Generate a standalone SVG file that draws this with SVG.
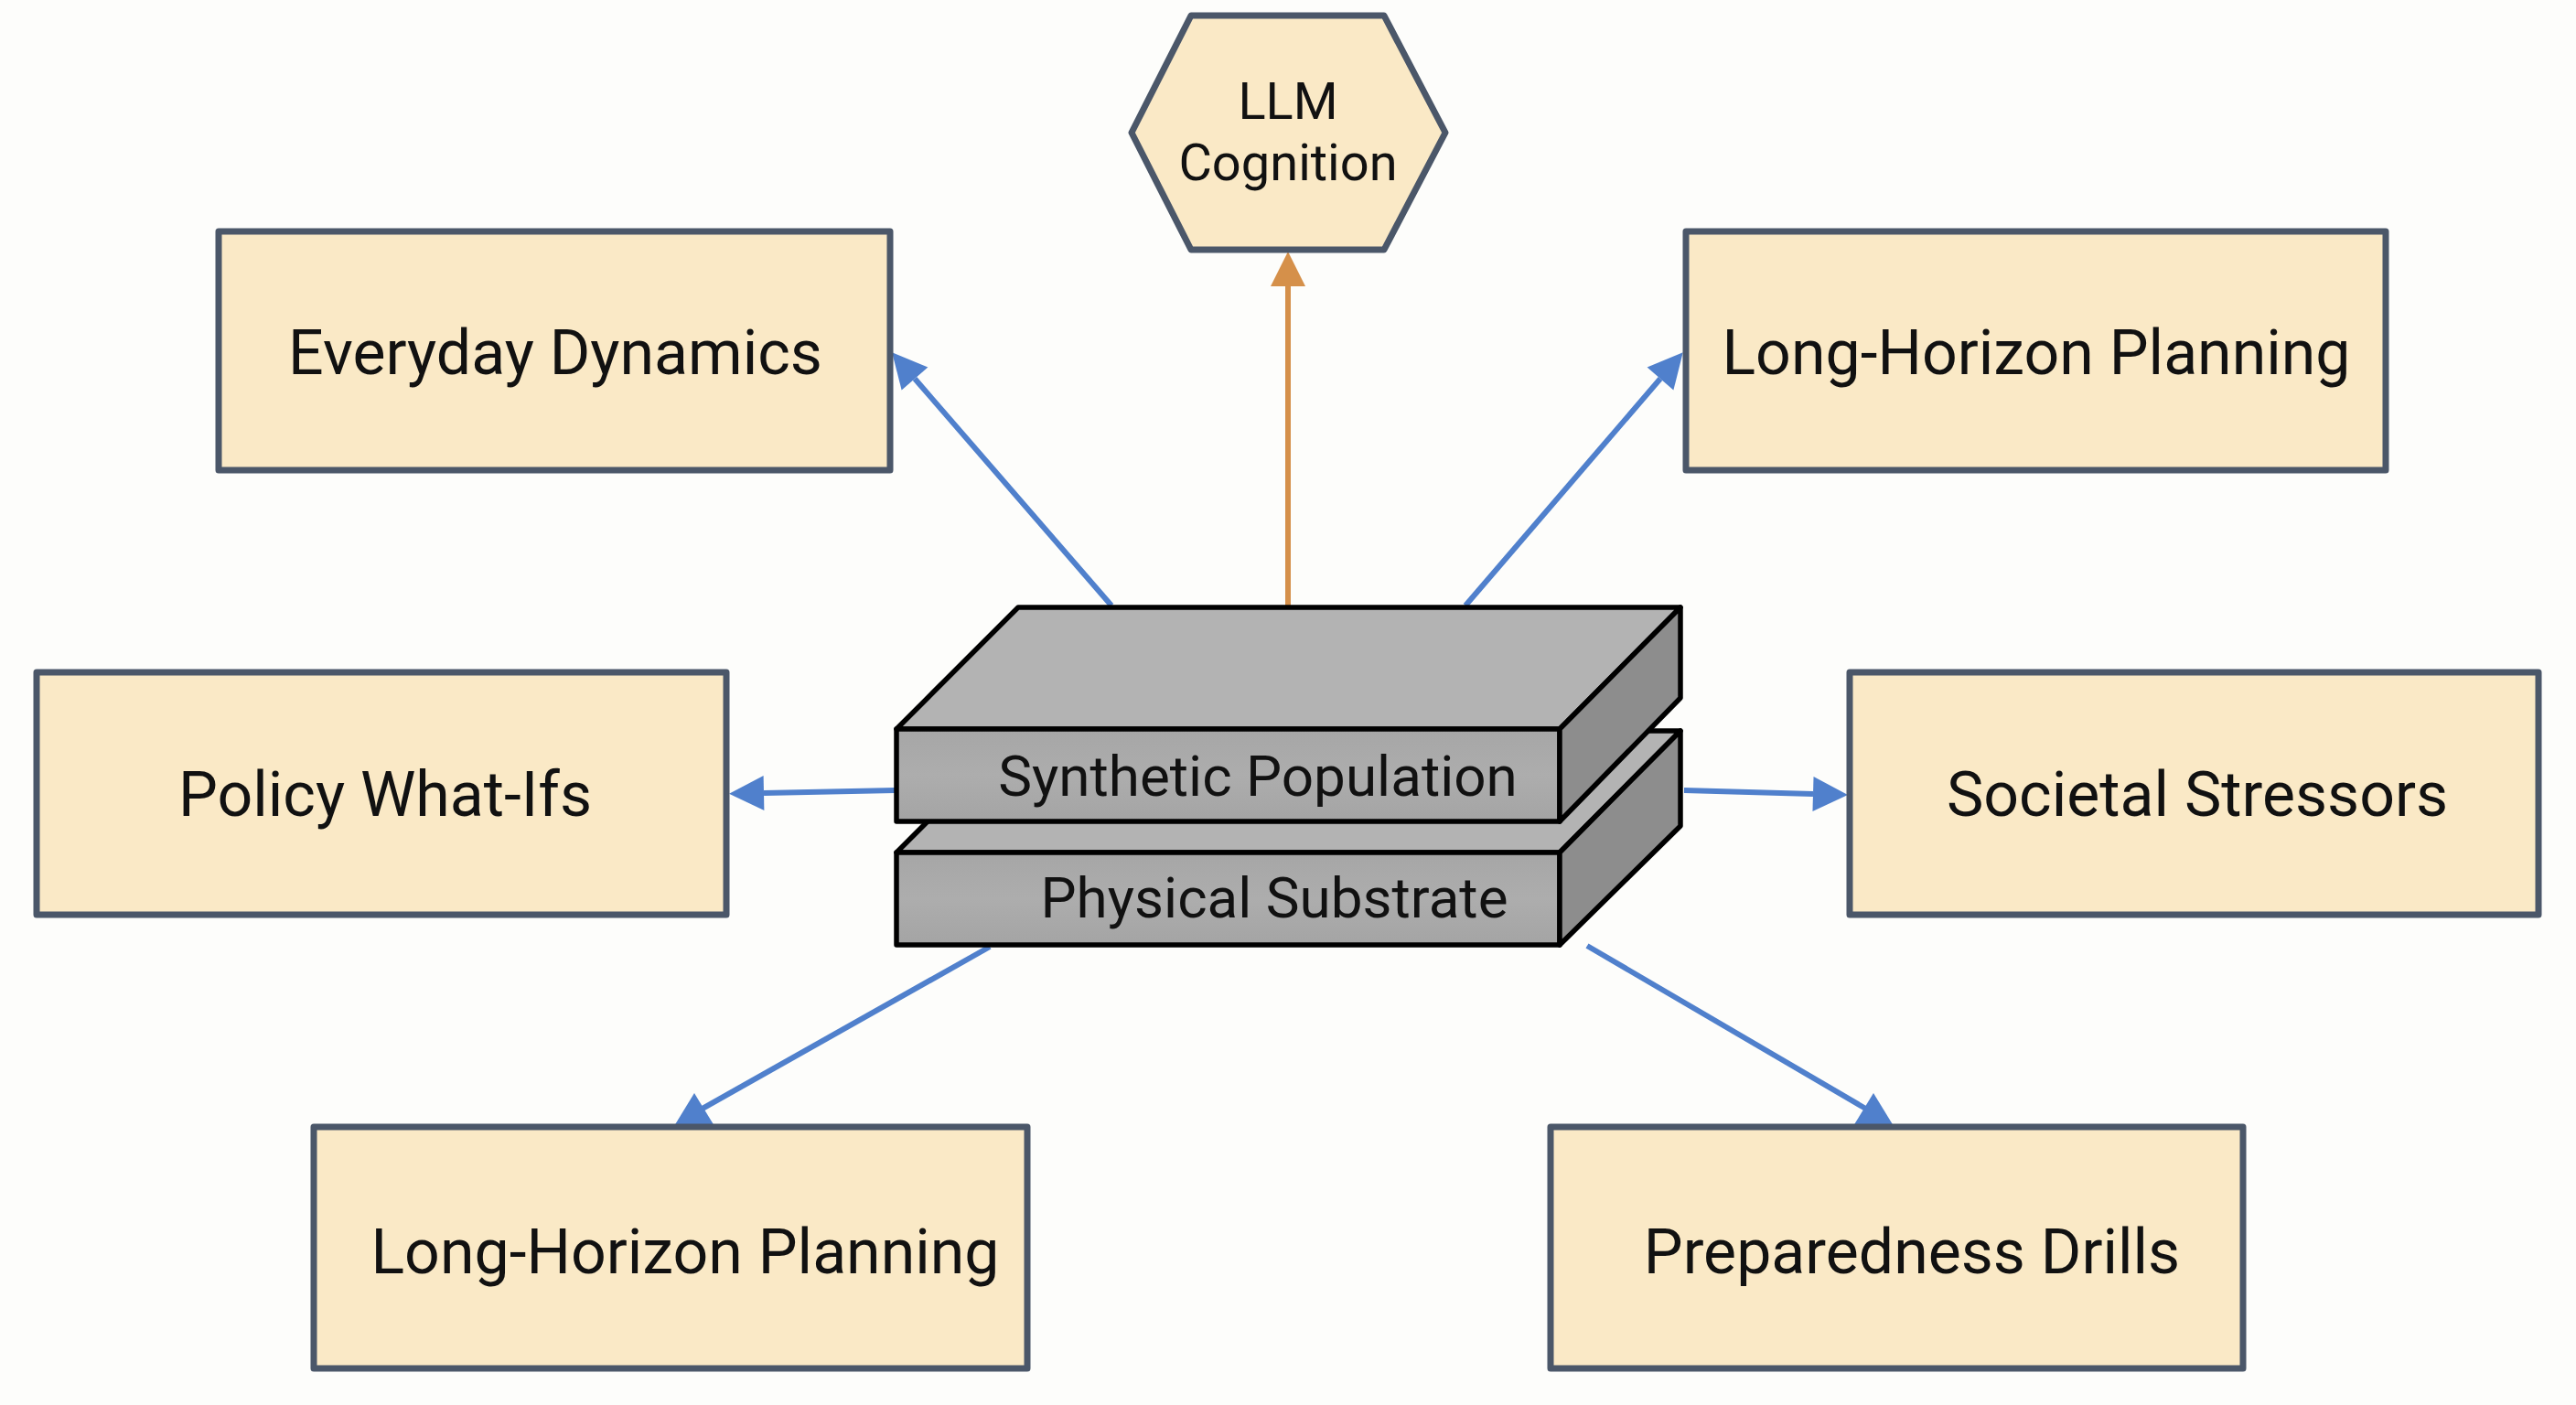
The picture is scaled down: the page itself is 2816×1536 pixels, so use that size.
<svg xmlns="http://www.w3.org/2000/svg" width="2816" height="1536" viewBox="0 0 2816 1536">
<defs>
<style>
.box{fill:#fae9c6;stroke:#4b5769;stroke-width:7;stroke-linejoin:round}
.lbl{font-family:Roboto,"Liberation Sans",sans-serif;font-size:68px;fill:#111;text-anchor:middle}
.hexlbl{font-family:Roboto,"Liberation Sans",sans-serif;font-size:56px;fill:#111;text-anchor:middle}
.slablbl{font-family:Roboto,"Liberation Sans",sans-serif;font-size:62px;fill:#111;text-anchor:middle}
.edge{stroke:#5080cc;stroke-width:6;fill:none}
.edgeO{stroke:#d5904a;stroke-width:6;fill:none}
.sl{stroke:#000;stroke-width:5.5;stroke-linejoin:round}
.top{fill:#b3b3b3}
.front{fill:url(#gf)}
.side{fill:#8d8d8d}
</style>
<linearGradient id="gf" x1="0" y1="0" x2="0" y2="1">
<stop offset="0" stop-color="#a6a6a6"/>
<stop offset="0.5" stop-color="#adadad"/>
<stop offset="1" stop-color="#a4a4a4"/>
</linearGradient>
<marker id="ab" markerUnits="userSpaceOnUse" markerWidth="40" markerHeight="40" refX="0" refY="19" orient="auto" overflow="visible">
<path d="M0 0 L38 19 L0 38 Z" fill="#5080cc"/>
</marker>
<marker id="ao" markerUnits="userSpaceOnUse" markerWidth="40" markerHeight="40" refX="0" refY="19" orient="auto" overflow="visible">
<path d="M0 0 L38 19 L0 38 Z" fill="#d5904a"/>
</marker>
<marker id="au" markerUnits="userSpaceOnUse" markerWidth="46" markerHeight="40" refX="22" refY="22" orient="0" overflow="visible">
<path d="M22 0 L0 36 L44 36 Z" fill="#5080cc"/>
</marker>
</defs>
<rect x="0" y="0" width="2816" height="1536" fill="#fdfdfb"/>

<g id="connectors">
<line class="edge" x1="1215" y1="662" x2="1000" y2="414" marker-end="url(#ab)"/>
<line class="edge" x1="1602" y1="662" x2="1815" y2="414" marker-end="url(#ab)"/>
<line class="edgeO" x1="1408" y1="663" x2="1408" y2="313" marker-end="url(#ao)"/>
<line class="edge" x1="979" y1="864" x2="835" y2="867" marker-end="url(#ab)"/>
<line class="edge" x1="1841" y1="864" x2="1982" y2="868" marker-end="url(#ab)"/>
<line class="edge" x1="1082" y1="1035" x2="759" y2="1217" marker-end="url(#au)"/>
<line class="edge" x1="1735" y1="1034" x2="2048" y2="1217" marker-end="url(#au)"/>
</g>

<g id="llm-cognition">
<polygon class="box" points="1302,17 1513,17 1580,145 1513,273 1302,273 1237,145"/>
<text class="hexlbl" x="1408" y="130">LLM</text>
<text class="hexlbl" x="1408" y="197">Cognition</text>
</g>

<g id="everyday-dynamics">
<rect class="box" x="239" y="253" width="734" height="261"/>
<text class="lbl" x="607" y="409">Everyday Dynamics</text>
</g>

<g id="long-horizon-planning-top">
<rect class="box" x="1843" y="253" width="765" height="261"/>
<text class="lbl" x="2226" y="409">Long-Horizon Planning</text>
</g>

<g id="policy-what-ifs">
<rect class="box" x="40" y="735" width="754" height="265"/>
<text class="lbl" x="421" y="892">Policy What-Ifs</text>
</g>

<g id="societal-stressors">
<rect class="box" x="2022" y="735" width="753" height="265"/>
<text class="lbl" x="2402" y="892">Societal Stressors</text>
</g>

<g id="long-horizon-planning-bottom">
<rect class="box" x="343" y="1232" width="780" height="264"/>
<text class="lbl" x="749" y="1392">Long-Horizon Planning</text>
</g>

<g id="preparedness-drills">
<rect class="box" x="1695" y="1232" width="757" height="264"/>
<text class="lbl" x="2090" y="1392">Preparedness Drills</text>
</g>

<g id="physical-substrate">
<polygon class="sl top" points="980,932 1705,932 1837,799 1113,799"/>
<rect class="sl front" x="980" y="932" width="725" height="101"/>
<polygon class="sl side" points="1705,932 1837,799 1837,903 1705,1033"/>
<text class="slablbl" x="1393" y="1003">Physical Substrate</text>
</g>

<g id="synthetic-population">
<polygon class="sl top" points="980,797 1705,797 1837,664 1113,664"/>
<rect class="sl front" x="980" y="797" width="725" height="101"/>
<polygon class="sl side" points="1705,797 1837,664 1837,763 1705,898"/>
<text class="slablbl" x="1375" y="870">Synthetic Population</text>
</g>
</svg>
